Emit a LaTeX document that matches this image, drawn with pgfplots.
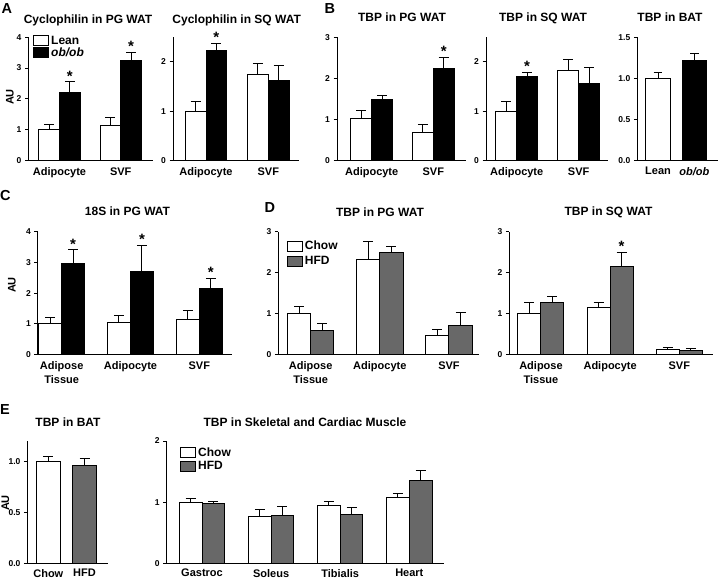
\documentclass[border=0pt]{standalone}
\usepackage{pgfplots}
\pgfplotsset{compat=1.18}
\usepackage{fontspec}
\setmainfont{Liberation Sans}
\definecolor{hfd}{RGB}{104,104,104}
\newcommand\ticksz{\fontsize{8.5}{9}\selectfont\bfseries}
\newcommand\catsz{\fontsize{11}{13.5}\selectfont\bfseries}
\newcommand\titsz{\fontsize{12}{14}\selectfont\bfseries}
\newcommand\legsz{\fontsize{12}{13}\selectfont\bfseries}
\newcommand\letsz{\fontsize{14.5}{15}\selectfont\bfseries}
\tikzset{astr/.style={font=\fontsize{15}{15}\selectfont\bfseries, anchor=base, yshift=0.5pt, inner sep=0pt}}
\pgfplotsset{
 panel/.style={
  scale only axis, axis lines=left, axis line style={-, line width=1pt, black},
  ymin=0, clip=false, ybar, enlargelimits=false,
  tick align=outside, major tick length=3.5pt,
  ytick style={line width=1pt, black},
  xtick style={draw=none},
  tick label style={font=\ticksz},
  xticklabel style={font=\catsz, align=center},
  /pgf/number format/assume math mode=true,
  error bars/y dir=plus, error bars/y explicit,
  error bars/error mark=|,
  error bars/error bar style={line width=1pt, black},
  error bars/error mark options={mark size=5pt, line width=1pt, black},
  legend cell align=left,
  legend style={draw=none, fill=none, font=\legsz, anchor=north west, inner sep=0pt, row sep=1pt},
 },
 wb/.style={draw=black, fill=white, line width=1pt,
   legend image code/.code={\draw[draw=black,fill=white,line width=1pt] (0pt,-5pt) rectangle (15pt,5pt);}},
 bb/.style={draw=black, fill=black, line width=1pt,
   legend image code/.code={\draw[draw=black,fill=black,line width=1pt] (0pt,-5pt) rectangle (15pt,5pt);}},
 gb/.style={draw=black, fill=hfd, line width=1pt,
   legend image code/.code={\draw[draw=black,fill=hfd,line width=1pt] (0pt,-5pt) rectangle (15pt,5pt);}},
}
\begin{document}
\begin{tikzpicture}
\path[use as bounding box] (0,0) rectangle (720pt,-579pt);
% ---------------- A1
\begin{axis}[panel, at={(28.5pt,-160.3pt)}, anchor=south west,
  width=124.2pt, height=123pt, xmin=-0.507, xmax=1.523, ymax=4, ytick={0,1,2,3,4},
  xtick={0,1}, xticklabels={Adipocyte,SVF}, bar width=20.7pt,
  legend style={at={(0.036,1.03)}, row sep=-2pt}]
\addplot[wb, bar shift=-10.35pt] coordinates {(0,1.0) +- (0,0.18) (1,1.14) +- (0,0.25)};
\addplot[bb, bar shift=10.35pt] coordinates {(0,2.22) +- (0,0.33) (1,3.23) +- (0,0.29)};
\legend{Lean,\textit{ob/ob}}
\node[astr] at (axis cs:0.169,2.55) {*};
\node[astr] at (axis cs:1.169,3.52) {*};
\end{axis}
% ---------------- A2
\begin{axis}[panel, at={(173pt,-160.3pt)}, anchor=south west,
  width=126pt, height=123pt, xmin=-0.53, xmax=1.493, ymax=2.5, ytick={0,1,2},
  xtick={0,1}, xticklabels={Adipocyte,SVF}, bar width=20.8pt]
\addplot[wb, bar shift=-10.4pt] coordinates {(0,1.0) +- (0,0.2) (1,1.75) +- (0,0.22)};
\addplot[bb, bar shift=10.4pt] coordinates {(0,2.24) +- (0,0.14) (1,1.62) +- (0,0.30)};
\node[astr] at (axis cs:0.167,2.38) {*};
\end{axis}
% ---------------- B1
\begin{axis}[panel, at={(337pt,-160.3pt)}, anchor=south west,
  width=129pt, height=123pt, xmin=-0.563, xmax=1.531, ymax=3, ytick={0,1,2,3},
  xtick={0,1}, xticklabels={Adipocyte,SVF}, bar width=20.8pt]
\addplot[wb, bar shift=-10.4pt] coordinates {(0,1.02) +- (0,0.19) (1,0.67) +- (0,0.2)};
\addplot[bb, bar shift=10.4pt] coordinates {(0,1.48) +- (0,0.1) (1,2.23) +- (0,0.28)};
\node[astr] at (axis cs:1.169,2.51) {*};
\end{axis}
% ---------------- B2
\begin{axis}[panel, at={(486pt,-160.3pt)}, anchor=south west,
  width=122pt, height=123pt, xmin=-0.495, xmax=1.473, ymax=2.5, ytick={0,1,2},
  xtick={0,1}, xticklabels={Adipocyte,SVF}, bar width=20.7pt]
\addplot[wb, bar shift=-10.35pt] coordinates {(0,1.0) +- (0,0.19) (1,1.82) +- (0,0.22)};
\addplot[bb, bar shift=10.35pt] coordinates {(0,1.70) +- (0,0.09) (1,1.57) +- (0,0.31)};
\node[astr] at (axis cs:0.167,1.79) {*};
\end{axis}
% ---------------- B3
\begin{axis}[panel, at={(637.3pt,-160.3pt)}, anchor=south west,
  width=80.7pt, height=123pt, xmin=-0.57, xmax=1.653, ymax=1.5, ytick={0,0.5,1,1.5},
  yticklabel style={/pgf/number format/.cd, fixed, fixed zerofill, precision=1},
  xtick={0,1}, xticklabels={Lean,\textit{ob/ob}}, bar width=24.3pt,
  error bars/error mark options={mark size=4.3pt, line width=1pt, black}]
\addplot[wb, bar shift=0pt] coordinates {(0,1.0) +- (0,0.075)};
\addplot[bb, bar shift=0pt] coordinates {(1,1.215) +- (0,0.085)};
\end{axis}
% ---------------- C
\begin{axis}[panel, at={(38pt,-354.7pt)}, anchor=south west,
  width=194pt, height=123pt, xmin=-0.344, xmax=2.475, ymax=4, ytick={0,1,2,3,4},
  xtick={0,1,2}, xticklabels={Adipose\\Tissue,Adipocyte,SVF}, bar width=23pt]
\addplot[wb, bar shift=-11.5pt] coordinates {(0,1.01) +- (0,0.21) (1,1.04) +- (0,0.25) (2,1.16) +- (0,0.27)};
\addplot[bb, bar shift=11.5pt] coordinates {(0,2.97) +- (0,0.44) (1,2.70) +- (0,0.86) (2,2.15) +- (0,0.34)};
\node[astr] at (axis cs:0.167,3.41) {*};
\node[astr] at (axis cs:1.167,3.56) {*};
\node[astr] at (axis cs:2.167,2.49) {*};
\end{axis}
% ---------------- D1
\begin{axis}[panel, at={(278.3pt,-354.7pt)}, anchor=south west,
  width=200.7pt, height=123pt, xmin=-0.468, xmax=2.434, ymax=3, ytick={0,1,2,3},
  xtick={0,1,2}, xticklabels={Adipose\\Tissue,Adipocyte,SVF}, bar width=23.3pt,
  legend style={at={(0.042,0.94)}}]
\addplot[wb, bar shift=-11.65pt] coordinates {(0,1.0) +- (0,0.18) (1,2.33) +- (0,0.42) (2,0.46) +- (0,0.16)};
\addplot[gb, bar shift=11.65pt] coordinates {(0,0.59) +- (0,0.18) (1,2.50) +- (0,0.13) (2,0.71) +- (0,0.31)};
\legend{Chow,HFD}
\end{axis}
% ---------------- D2
\begin{axis}[panel, at={(509.3pt,-354.7pt)}, anchor=south west,
  width=203.7pt, height=123pt, xmin=-0.458, xmax=2.487, ymax=3, ytick={0,1,2,3},
  xtick={0,1,2}, xticklabels={Adipose\\Tissue,Adipocyte,SVF}, bar width=23pt]
\addplot[wb, bar shift=-11.5pt] coordinates {(0,1.0) +- (0,0.27) (1,1.15) +- (0,0.12) (2,0.12) +- (0,0.05)};
\addplot[gb, bar shift=11.5pt] coordinates {(0,1.27) +- (0,0.14) (1,2.16) +- (0,0.34) (2,0.10) +- (0,0.04)};
\node[astr] at (axis cs:1.166,2.50) {*};
\end{axis}
% ---------------- E1
\begin{axis}[panel, at={(27.5pt,-563.7pt)}, anchor=south west,
  width=80.5pt, height=122.4pt, xmin=-0.575, xmax=1.649, ymax=1.2, ytick={0,0.5,1},
  yticklabel style={/pgf/number format/.cd, fixed, fixed zerofill, precision=1},
  xtick={0,1}, xticklabels={Chow,HFD}, bar width=23.5pt,
  xticklabel style={yshift=1.5pt}]
\addplot[wb, bar shift=0pt] coordinates {(0,1.0) +- (0,0.055)};
\addplot[gb, bar shift=0pt] coordinates {(1,0.96) +- (0,0.07)};
\end{axis}
% ---------------- E2
\begin{axis}[panel, at={(166.7pt,-563.7pt)}, anchor=south west,
  width=277.6pt, height=122.7pt, xmin=-0.511, xmax=3.506, ymax=2, ytick={0,1,2},
  xtick={0,1,2,3}, xticklabels={Gastroc,Soleus,Tibialis,Heart}, bar width=22.7pt,
  xticklabel style={yshift=1.5pt},
  legend style={at={(0.048,0.965)}, row sep=0pt}]
\addplot[wb, bar shift=-11.35pt] coordinates {(0,1.0) +- (0,0.065) (1,0.77) +- (0,0.11) (2,0.95) +- (0,0.07) (3,1.08) +- (0,0.06)};
\addplot[gb, bar shift=11.35pt] coordinates {(0,0.98) +- (0,0.04) (1,0.78) +- (0,0.15) (2,0.81) +- (0,0.11) (3,1.35) +- (0,0.17)};
\legend{Chow,HFD}
\end{axis}
% ---------------- titles
\begin{scope}[every node/.style={font=\titsz, anchor=base, inner sep=0pt}]
\node at (88pt,-23.3pt) {Cyclophilin in PG WAT};
\node at (236.7pt,-23.3pt) {Cyclophilin in SQ WAT};
\node at (402pt,-21pt) {TBP in PG WAT};
\node at (543pt,-21pt) {TBP in SQ WAT};
\node at (670pt,-21pt) {TBP in BAT};
\node at (127.5pt,-215pt) {18S in PG WAT};
\node at (380pt,-216pt) {TBP in PG WAT};
\node at (608.5pt,-215.7pt) {TBP in SQ WAT};
\node at (68pt,-426pt) {TBP in BAT};
\node at (305pt,-426pt) {TBP in Skeletal and Cardiac Muscle};
\end{scope}
\begin{scope}[every node/.style={font=\letsz, anchor=base west, inner sep=0pt}]
\node at (1.5pt,-13pt) {A};
\node at (324.5pt,-13pt) {B};
\node at (0pt,-200.5pt) {C};
\node at (264.5pt,-212pt) {D};
\node at (0pt,-414.5pt) {E};
\end{scope}
\begin{scope}[every node/.style={font=\catsz, rotate=90, inner sep=0pt}]
\node at (10pt,-97pt) {AU};
\node at (12pt,-285pt) {AU};
\node at (5.5pt,-503pt) {AU};
\end{scope}
\end{tikzpicture}
\end{document}
